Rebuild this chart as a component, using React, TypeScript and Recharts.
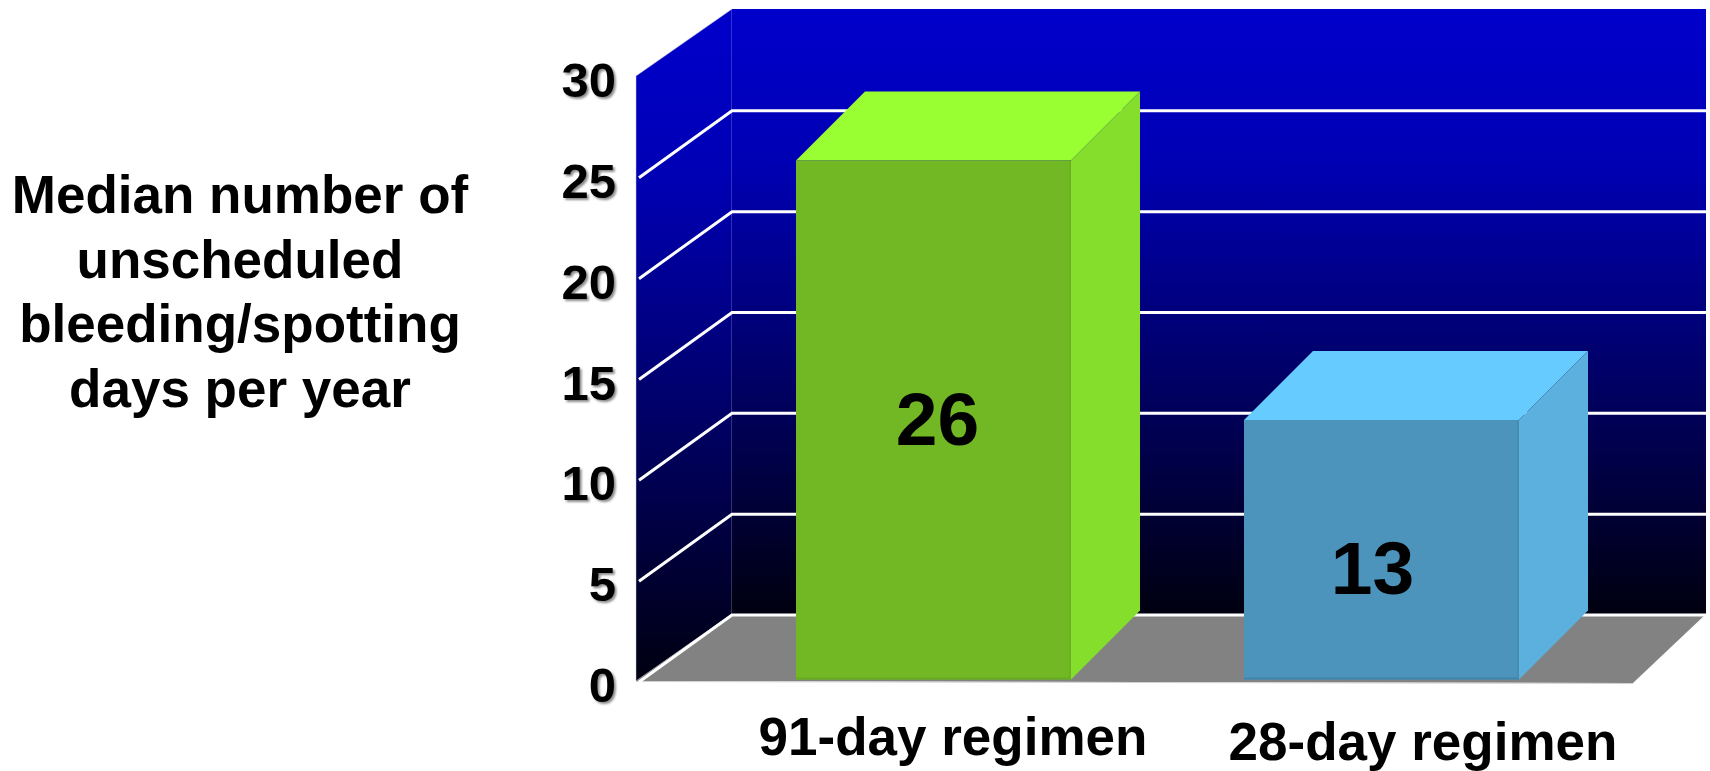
import { BarChart, Bar, XAxis, YAxis, CartesianGrid, LabelList } from "recharts";

const regimens = ["91-day regimen", "28-day regimen"];
const medianDays = [26, 13];
const yTicks = [0, 5, 10, 15, 20, 25, 30];
const titleLines = [
  "Median number of",
  "unscheduled",
  "bleeding/spotting",
  "days per year",
];

const chartData = regimens.map((name, i) => ({ name, days: medianDays[i] }));

const FONT = "'Liberation Sans', Arial, sans-serif";

// box faces per category: front, top, side, bottom edge
const boxColors = [
  { front: "#72B825", top: "#99FF33", side: "#86DE2C", edge: "#66A922" },
  { front: "#4C94BC", top: "#66CCFF", side: "#5CB0DE", edge: "#3F85AB" },
];

// label offsets from the default anchor of each category
const tickNudge = [
  { dx: 20, dy: 0 },
  { dx: 42, dy: 5 },
];
const valueNudge = [
  { dx: 4, dy: 0 },
  { dx: -9, dy: 18 },
];

// wall perspective
const WALL_DX = 96;
const WALL_DY = 67;
const BACK_RIGHT = 1706;
const WALL_HEIGHT = 605;
// boxes stand a little behind the front plane, so they come out slightly shorter
const BOX_SCALE = 0.99;
const BOX_DX = 69;
const BOX_DY = 69;
const BOX_LIFT = 1.5;

function Walls({ x1, x2, top }: { x1: number; x2: number; top: number }) {
  const y = top + WALL_HEIGHT;
  const bx = x1 + WALL_DX;
  return (
    <g>
      <defs>
        <linearGradient id="wallFill" x1="0" y1="0" x2="0" y2="1">
          <stop offset="0" stopColor="#0000CC" />
          <stop offset="0.25" stopColor="#0000B4" />
          <stop offset="1" stopColor="#000010" />
        </linearGradient>
        <filter id="softShadow" x="-20%" y="-20%" width="150%" height="150%">
          <feDropShadow dx="2" dy="2" stdDeviation="1.2" floodColor="#000000" floodOpacity="0.45" />
        </filter>
      </defs>
      <polygon
        points={`${x1},${top} ${bx},${top - WALL_DY} ${bx},${y - WALL_DY} ${x1},${y}`}
        fill="url(#wallFill)"
        stroke="#C8C8E0"
        strokeWidth={0.5}
      />
      <rect
        x={bx}
        y={top - WALL_DY}
        width={BACK_RIGHT - bx}
        height={WALL_HEIGHT}
        fill="url(#wallFill)"
      />
      <polygon
        points={`${x1},${y} ${bx},${y - WALL_DY} ${BACK_RIGHT},${y - WALL_DY} ${x2},${y + 2}`}
        fill="#828282"
      />
      <line x1={x1} y1={y + 0.5} x2={x2} y2={y + 2.5} stroke="#D0D0D0" strokeWidth={1} />
    </g>
  );
}

// first grid line drawn also lays down the walls and floor underneath the rest
function GridLine(props: any) {
  const { x1, x2, y1, index, offset } = props;
  const back = y1 - WALL_DY + 1;
  const plotTop = offset ? offset.top : 76;
  const topLine = Math.abs(y1 - plotTop) < 1;
  return (
    <g key={`grid-${index}`}>
      {index === 0 ? <Walls x1={x1} x2={x2} top={plotTop} /> : null}
      {topLine ? null : (
        <polyline
          points={`${x1 + 3},${y1 + 1} ${x1 + WALL_DX},${back} ${BACK_RIGHT},${back}`}
          fill="none"
          stroke="#FFFFFF"
          strokeWidth={3}
        />
      )}
    </g>
  );
}

function Box3D(props: any) {
  const { x, y, width, height, index } = props;
  const c = boxColors[index];
  const bottom = y + height - BOX_LIFT;
  const boxHeight = height * BOX_SCALE;
  const top = bottom - boxHeight;
  const r = x + width;
  return (
    <g>
      <polygon
        points={`${x},${top} ${r},${top} ${r + BOX_DX},${top - BOX_DY} ${x + BOX_DX},${top - BOX_DY}`}
        fill={c.top}
      />
      <polygon
        points={`${r},${top} ${r + BOX_DX},${top - BOX_DY} ${r + BOX_DX},${bottom - BOX_DY} ${r},${bottom}`}
        fill={c.side}
      />
      <rect x={x} y={top} width={width} height={boxHeight} fill={c.front} />
      <rect x={x} y={bottom - 2} width={width} height={2} fill={c.edge} />
      <rect x={r - 2} y={top} width={2} height={boxHeight} fill={c.edge} opacity={0.5} />
    </g>
  );
}

function ValueLabel(props: any) {
  const { x, y, width, height, value, index } = props;
  const n = valueNudge[index];
  return (
    <text
      x={x + width / 2 + n.dx}
      y={y + height / 2 + n.dy}
      textAnchor="middle"
      dominantBaseline="central"
      fontFamily={FONT}
      fontWeight="bold"
      fontSize={75}
      fill="#000000"
    >
      {value}
    </text>
  );
}

function YTick({ x, y, payload }: any) {
  return (
    <text
      x={x}
      y={y + 4}
      textAnchor="end"
      dominantBaseline="central"
      fontFamily={FONT}
      fontWeight="bold"
      fontSize={49}
      fill="#000000"
      filter="url(#softShadow)"
    >
      {payload.value}
    </text>
  );
}

function XTick({ x, y, payload, index }: any) {
  const n = tickNudge[index];
  return (
    <text
      x={x + n.dx}
      y={y + n.dy + 47}
      textAnchor="middle"
      dominantBaseline="central"
      fontFamily={FONT}
      fontWeight="bold"
      fontSize={53}
      fill="#000000"
    >
      {payload.value}
    </text>
  );
}

export default function App() {
  return (
    <div
      style={{
        position: "absolute",
        left: 0,
        top: 0,
        width: 1710,
        height: 771,
        overflow: "hidden",
        background: "#FFFFFF",
      }}
    >
      {titleLines.map((line, i) => (
        <div
          key={line}
          style={{
            position: "absolute",
            left: 0,
            width: 480,
            top: 160 + i * 64.5,
            textAlign: "center",
            fontFamily: FONT,
            fontWeight: "bold",
            fontSize: 53,
            lineHeight: "70px",
            color: "#000000",
          }}
        >
          {line}
        </div>
      ))}
      <BarChart
        width={1710}
        height={771}
        data={chartData}
        margin={{ top: 76, right: 77, bottom: 0, left: 546 }}
        barSize={275}
        style={{ position: "absolute", left: 0, top: 0 }}
      >
        <CartesianGrid horizontal={GridLine} vertical={false} />
        <XAxis
          dataKey="name"
          height={90}
          axisLine={false}
          tickLine={false}
          tick={XTick}
          interval={0}
          padding={{ left: 73, right: 28 }}
        />
        <YAxis
          width={90}
          domain={[0, 30]}
          ticks={yTicks}
          interval={0}
          axisLine={false}
          tickLine={false}
          tickMargin={14}
          tick={YTick}
        />
        <Bar dataKey="days" shape={Box3D} isAnimationActive={false}>
          <LabelList dataKey="days" content={ValueLabel} />
        </Bar>
      </BarChart>
    </div>
  );
}
